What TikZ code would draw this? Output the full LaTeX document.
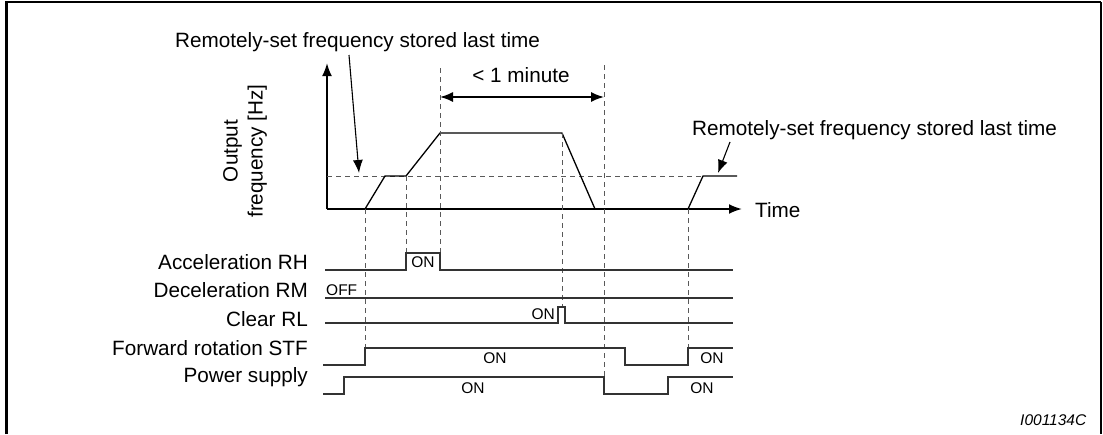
\documentclass[tikz,border=0pt]{standalone}
\usepackage{fontspec}
\setmainfont{Liberation Sans}
\usetikzlibrary{arrows.meta}
\tikzset{
  big/.style={font=\fontsize{20.7}{25}\selectfont, inner sep=0pt},
  small/.style={font=\fontsize{15.5}{18}\selectfont, inner sep=0pt},
  axis/.style={line width=2pt, -{Latex[length=13pt,width=10pt]}},
  sig/.style={line width=1.2pt, draw=black!80},
  curve/.style={line width=1.3pt},
  guide/.style={line width=1pt, draw=black!65, dash pattern=on 5pt off 4pt},
  pointer/.style={line width=1.1pt, -{Latex[length=13pt,width=10pt]}},
  span/.style={line width=1.6pt, {Latex[length=13pt,width=10pt]}-{Latex[length=13pt,width=10pt]}},
  frame/.style={line width=2.2pt}
}
\begin{document}
\begin{tikzpicture}[x=1pt,y=-1pt]
\useasboundingbox (0,0) rectangle (1103,434);
% frame
\draw[frame] (6.5,434) -- (6.5,2) -- (1101,2);
\draw[line width=1.2pt] (1101,2) -- (1101,434);

% axes
\coordinate (O) at (327,209);
\coordinate (Ytop) at (327,63);
\coordinate (Xend) at (742,209);
\draw[axis] (O) -- (Ytop);
\draw[axis] (O) -- (Xend);
\node[big, anchor=base west] (time) at (755,217) {Time};
\node[big, rotate=90, align=center] (ylab) at (245,151) {Output\\frequency [Hz]};

% stored frequency dashed level
\coordinate (L0) at (327,176);
\coordinate (L1) at (703,176);
\draw[guide] (L0) -- (L1);

% frequency curve
\coordinate (c1) at (365,209);
\coordinate (c2) at (385,176);
\coordinate (c3) at (406,176);
\coordinate (c4) at (440,133);
\coordinate (c5) at (562,133);
\coordinate (c6) at (595,209);
\draw[curve] (c1) -- (c2) -- (c3) -- (c4) -- (c5) -- (c6);
\coordinate (d1) at (688,209);
\coordinate (d2) at (703,176);
\coordinate (d3) at (737,176);
\draw[curve] (d1) -- (d2) -- (d3);

% vertical guides
\coordinate (g1a) at (365,209); \coordinate (g1b) at (365,348);
\coordinate (g2a) at (406,176); \coordinate (g2b) at (406,253);
\coordinate (g3a) at (440,68);  \coordinate (g3b) at (440,253);
\coordinate (g4a) at (562,133); \coordinate (g4b) at (562,307);
\coordinate (g5a) at (604,65);  \coordinate (g5b) at (604,377);
\coordinate (g6a) at (688,209); \coordinate (g6b) at (688,348);
\draw[guide] (g1a) -- (g1b);
\draw[guide] (g2a) -- (g2b);
\draw[guide] (g3a) -- (g3b);
\draw[guide] (g4a) -- (g4b);
\draw[guide] (g5a) -- (g5b);
\draw[guide] (g6a) -- (g6b);

% < 1 minute
\coordinate (s1) at (440,97);
\coordinate (s2) at (604,97);
\draw[span] (s1) -- (s2);
\node[big, anchor=base] (minute) at (521,82) {< 1 minute};

% stored-frequency labels
\node[big, anchor=base west] (lab1) at (175,47) {Remotely-set frequency stored last time};
\coordinate (p1a) at (349,55);
\coordinate (p1b) at (359,173);
\draw[pointer] (p1a) -- (p1b);
\node[big, anchor=base west] (lab2) at (692,135) {Remotely-set frequency stored last time};
\coordinate (p2a) at (730,142);
\coordinate (p2b) at (718,173);
\draw[pointer] (p2a) -- (p2b);

% signal labels
\node[big, anchor=base east] (rh) at (308,269) {Acceleration RH};
\node[big, anchor=base east] (rm) at (308,297) {Deceleration RM};
\node[big, anchor=base east] (rl) at (308,326) {Clear RL};
\node[big, anchor=base east] (stf) at (308,355) {Forward rotation STF};
\node[big, anchor=base east] (ps) at (308,382) {Power supply};

% signals
\draw[sig] (325,270) -- (406,270) -- (406,253) -- (440,253) -- (440,270) -- (733,270);
\draw[sig] (325,298) -- (733,298);
\draw[sig] (325,323) -- (558,323) -- (558,307) -- (565,307) -- (565,323) -- (733,323);
\draw[sig] (323,365) -- (365,365) -- (365,348) -- (625,348) -- (625,365) -- (688,365) -- (688,348) -- (733,348);
\draw[sig] (323,394) -- (344,394) -- (344,377) -- (604,377) -- (604,394) -- (668,394) -- (668,377) -- (733,377);

% signal state labels
\node[small, anchor=base] (on1) at (423,267) {ON};
\node[small, anchor=base west] (off) at (326,295) {OFF};
\node[small, anchor=base east] (on2) at (555,319) {ON};
\node[small, anchor=base] (on3) at (495,363) {ON};
\node[small, anchor=base] (on4) at (712,363) {ON};
\node[small, anchor=base] (on5) at (473,393) {ON};
\node[small, anchor=base] (on6) at (702,393) {ON};

\node[small, anchor=base west, font=\fontsize{15.5}{18}\selectfont\itshape] (code) at (1020,425) {I001134C};
\end{tikzpicture}
\end{document}
